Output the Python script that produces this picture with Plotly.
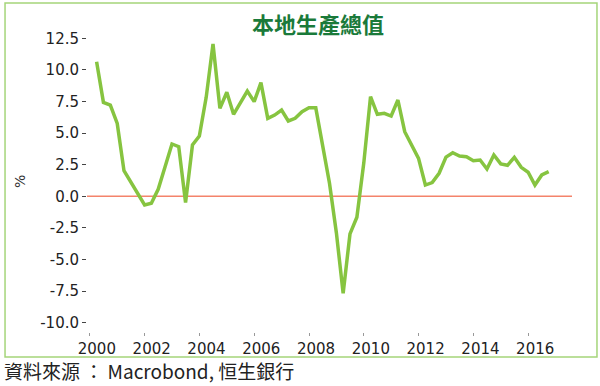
import pandas as pd
import plotly.graph_objects as go

# Hong Kong real GDP, y/y %, quarterly 2000Q1 - 2016Q3
start_quarter = "2000Q1"
gdp_growth = [
    10.65, 7.43, 7.22, 5.77,
    2.03, 1.13, 0.21, -0.69,
    -0.55, 0.55, 2.34, 4.14,
    3.93, -0.50, 4.06, 4.77,
    7.83, 12.05, 6.96, 8.23,
    6.49, 7.40, 8.33, 7.49,
    8.99, 6.17, 6.43, 6.83,
    5.96, 6.17, 6.70, 7.00,
    7.00, 4.03, 1.03, -2.90,
    -7.68, -2.98, -1.66, 2.63,
    7.88, 6.49, 6.57, 6.35,
    7.62, 5.11, 4.06, 3.00,
    0.89, 1.08, 1.82, 3.10,
    3.45, 3.19, 3.13, 2.82,
    2.87, 2.16, 3.27, 2.56,
    2.45, 3.08, 2.29, 1.90,
    0.89, 1.69, 1.95,
]
y_ticks = [12.5, 10.0, 7.5, 5.0, 2.5, 0.0, -2.5, -5.0, -7.5, -10.0]
y_tick_labels = ["12.5", "10.0", "7.5", "5.0", "2.5", "0.0", "-2.5", "-5.0", "-7.5", "-10.0"]
x_tick_years = ["2000", "2002", "2004", "2006", "2008", "2010", "2012", "2014", "2016"]

title_text = "本地生產總值"
source_text = "資料來源 ： Macrobond, 恒生銀行"

quarters = pd.period_range(start_quarter, periods=len(gdp_growth), freq="Q")
dates = [p.end_time.normalize() for p in quarters]

fig = go.Figure()
fig.add_trace(go.Scatter(
    x=dates, y=gdp_growth, mode="lines",
    line=dict(color="#86C440", width=3.5),
    hoverinfo="x+y", showlegend=False,
))

fig.add_shape(type="line", xref="paper", yref="y", x0=0, x1=1, y0=0, y1=0,
              line=dict(color="#F4836B", width=1.5), layer="below")

# outer frame
fig.add_shape(type="rect", xref="paper", yref="paper",
              x0=-0.169, x1=1.0515, y0=-0.0828, y1=1.0894,
              line=dict(color="#A5D57A", width=1.5), fillcolor="rgba(0,0,0,0)")

fig.add_annotation(text=title_text, xref="paper", yref="paper",
                   x=0.476, y=1.023, xanchor="center", yanchor="middle",
                   showarrow=False,
                   font=dict(family="Noto Sans CJK TC", size=22, color="#1A7A3A", weight="bold"))
fig.add_annotation(text=source_text, xref="paper", yref="paper",
                   x=-0.175, y=-0.127, xanchor="left", yanchor="middle",
                   showarrow=False,
                   font=dict(family="Noto Sans CJK TC", size=19, color="#222222"))
fig.add_annotation(text="%", xref="paper", yref="paper",
                   x=-0.138, y=0.497, xanchor="center", yanchor="middle",
                   textangle=-90, showarrow=False,
                   font=dict(family="DejaVu Sans", size=14, color="#333333"))

fig.update_layout(
    width=600, height=386,
    margin=dict(l=87, r=28, t=30, b=54),
    paper_bgcolor="white", plot_bgcolor="white",
    font=dict(family="DejaVu Sans", size=15, color="#222222"),
)
fig.update_xaxes(
    range=["1999-11-24", "2017-08-07"],
    tickvals=[f"{y}-01-01" for y in x_tick_years],
    ticktext=x_tick_years,
    ticks="outside", ticklen=3, tickcolor="#999999", tickwidth=1,
    ticklabelshift=7,
    showgrid=False, zeroline=False, showline=False,
    tickfont=dict(family="DejaVu Sans", size=15, color="#222222"),
)
fig.update_yaxes(
    range=[-10.74, 13.16],
    tickvals=y_ticks, ticktext=y_tick_labels,
    ticks="outside", ticklen=4, tickcolor="#444444", tickwidth=1,
    showgrid=False, zeroline=False, showline=False,
    tickfont=dict(family="DejaVu Sans", size=15, color="#222222"),
)

fig.write_html("out.html", config={"displayModeBar": False},
               post_script="document.body.style.margin='0';")
